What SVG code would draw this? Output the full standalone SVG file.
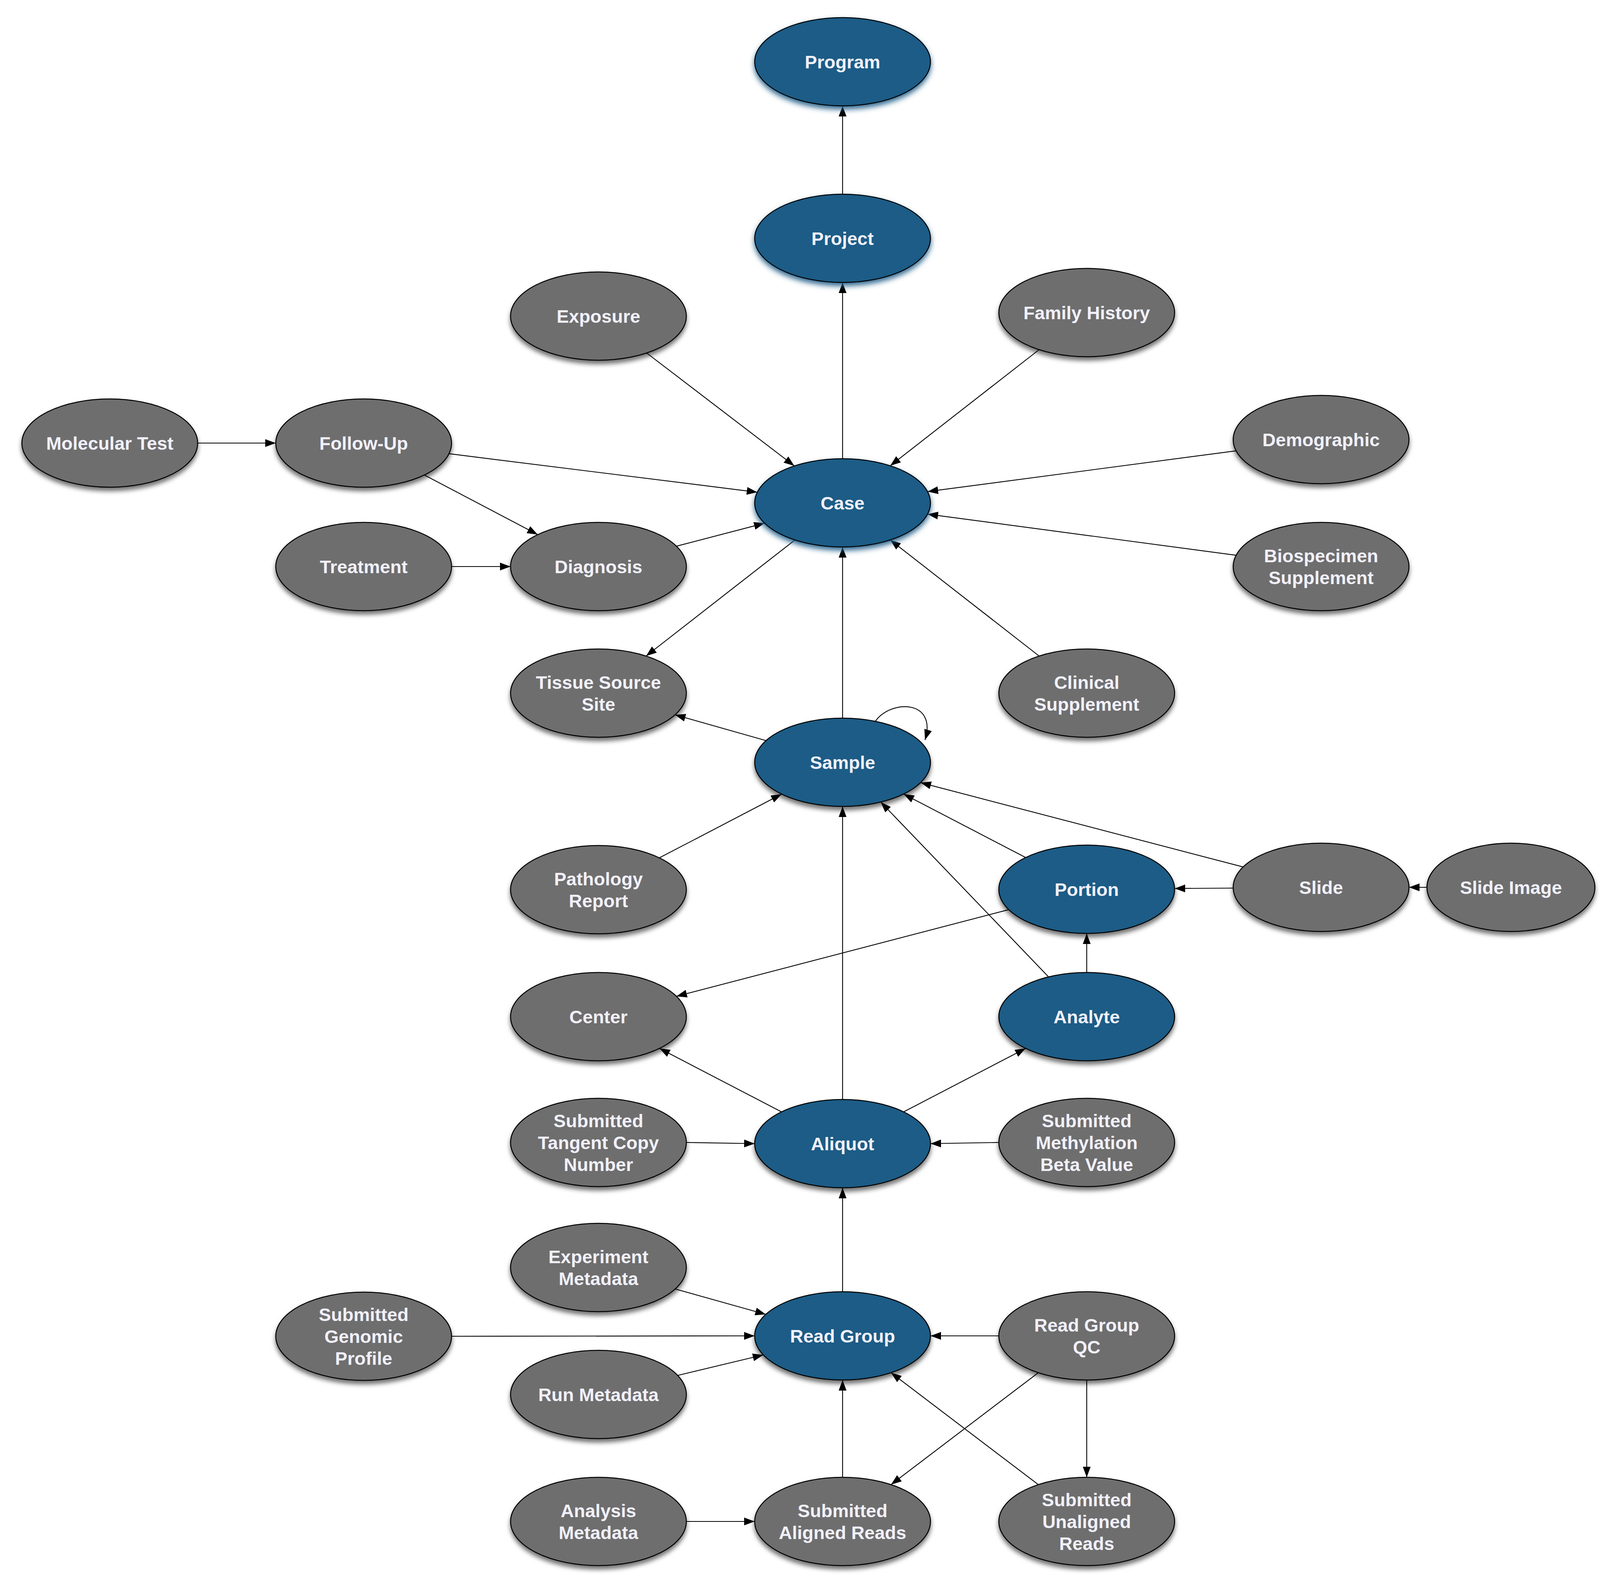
<svg xmlns="http://www.w3.org/2000/svg" width="4311" height="4072" viewBox="0 0 4311 4072">
<style>
  .edge { fill: none; stroke: #000; stroke-width: 2.2; marker-end: url(#arrow); }
  .blue { fill: #1e5c86; stroke: #000; stroke-width: 2.5; filter: url(#shadowGray); }
  .blueglow { fill: #1e5c86; stroke: #000; stroke-width: 2.5; filter: url(#shadowBlue); }
  .gray { fill: #6e6e6e; stroke: #000; stroke-width: 2.5; filter: url(#shadowGray); }
  .lbl { font-family: "Liberation Sans", Arial, Helvetica, sans-serif; font-weight: bold; font-size: 47px; fill: #f1f0fa; text-anchor: middle; }
</style>
<defs>
  <marker id="arrow" markerUnits="userSpaceOnUse" markerWidth="28" markerHeight="20" refX="27" refY="10" orient="auto" viewBox="0 0 28 20">
    <path d="M0,0 L27,10 L0,20 z" fill="#000"/>
  </marker>
  <filter id="shadowGray" x="-20%" y="-20%" width="140%" height="160%">
    <feDropShadow dx="0" dy="9" stdDeviation="6" flood-color="#000" flood-opacity="0.55"/>
  </filter>
  <filter id="shadowBlue" x="-20%" y="-20%" width="140%" height="160%">
    <feDropShadow dx="0" dy="8" stdDeviation="7" flood-color="#1e5c86" flood-opacity="0.9"/>
  </filter>
</defs>
<rect width="4311" height="4072" fill="#fff"/>

<g id="edges">
  <line class="edge" x1="2157" y1="497" x2="2157" y2="271"/>
  <line class="edge" x1="2157" y1="1174" x2="2157" y2="723"/>
  <line class="edge" x1="1655.5" y1="903.5" x2="2033.5" y2="1192.5"/>
  <line class="edge" x1="2660" y1="895" x2="2279" y2="1192"/>
  <line class="edge" x1="3164.4" y1="1153.8" x2="2374.6" y2="1258.2"/>
  <line class="edge" x1="3164.5" y1="1421.1" x2="2374.5" y2="1315.9"/>
  <line class="edge" x1="2660" y1="1679" x2="2279" y2="1382"/>
  <line class="edge" x1="1149.3" y1="1161.2" x2="1938.7" y2="1259.8"/>
  <line class="edge" x1="1731.7" y1="1397.9" x2="1957.3" y2="1339.1"/>
  <line class="edge" x1="2035" y1="1382" x2="1654" y2="1679"/>
  <line class="edge" x1="2157" y1="1838" x2="2157" y2="1400"/>
  <line class="edge" x1="1961" y1="1895.5" x2="1728" y2="1829.5"/>
  <path class="edge" d="M2241,1846 C2280,1790 2400,1790 2368,1894"/>
  <line class="edge" x1="506" y1="1134" x2="706" y2="1134"/>
  <line class="edge" x1="1086.4" y1="1215.7" x2="1376.6" y2="1368.3"/>
  <line class="edge" x1="1156" y1="1450" x2="1307" y2="1450"/>
  <line class="edge" x1="1688" y1="2195.6" x2="2001" y2="2032.4"/>
  <line class="edge" x1="2625.7" y1="2194.7" x2="2313.3" y2="2032.3"/>
  <line class="edge" x1="3182.4" y1="2218.9" x2="2356.6" y2="2003.1"/>
  <line class="edge" x1="2684.3" y1="2500.2" x2="2254.7" y2="2052.8"/>
  <line class="edge" x1="2157" y1="2814" x2="2157" y2="2064"/>
  <line class="edge" x1="3157" y1="2273" x2="3007" y2="2274"/>
  <line class="edge" x1="3653" y1="2271" x2="3607" y2="2271"/>
  <line class="edge" x1="2582.3" y1="2328.1" x2="1731.7" y2="2549.9"/>
  <line class="edge" x1="2782" y1="2489" x2="2782" y2="2389"/>
  <line class="edge" x1="2000.7" y1="2845.7" x2="1688.3" y2="2683.3"/>
  <line class="edge" x1="2313.3" y1="2845.7" x2="2625.7" y2="2683.3"/>
  <line class="edge" x1="1757" y1="2924" x2="1932" y2="2927"/>
  <line class="edge" x1="2557" y1="2924" x2="2382" y2="2927"/>
  <line class="edge" x1="2157" y1="3306" x2="2157" y2="3040"/>
  <line class="edge" x1="1728.6" y1="3299" x2="1960.4" y2="3364"/>
  <line class="edge" x1="1156" y1="3420" x2="1932" y2="3419"/>
  <line class="edge" x1="1735" y1="3520.3" x2="1954" y2="3467.7"/>
  <line class="edge" x1="2557" y1="3419" x2="2382" y2="3419"/>
  <line class="edge" x1="2658" y1="3513.3" x2="2281.1" y2="3799.7"/>
  <line class="edge" x1="2782" y1="3532" x2="2782" y2="3781"/>
  <line class="edge" x1="2157" y1="3781" x2="2157" y2="3532"/>
  <line class="edge" x1="2658" y1="3799.7" x2="2281.1" y2="3513.3"/>
  <line class="edge" x1="1757" y1="3894" x2="1932" y2="3894"/>
</g>

<g id="program"><ellipse class="blueglow" cx="2157" cy="158" rx="225" ry="113"/><text class="lbl" x="2157" y="174.5">Program</text></g>
<g id="project"><ellipse class="blueglow" cx="2157" cy="610" rx="225" ry="113"/><text class="lbl" x="2157" y="626.5">Project</text></g>
<g id="exposure"><ellipse class="gray" cx="1532" cy="809" rx="225" ry="113"/><text class="lbl" x="1532" y="825.5">Exposure</text></g>
<g id="family_history"><ellipse class="gray" cx="2782" cy="800" rx="225" ry="113"/><text class="lbl" x="2782" y="816.5">Family History</text></g>
<g id="molecular_test"><ellipse class="gray" cx="281" cy="1134" rx="225" ry="113"/><text class="lbl" x="281" y="1150.5">Molecular Test</text></g>
<g id="follow_up"><ellipse class="gray" cx="931" cy="1134" rx="225" ry="113"/><text class="lbl" x="931" y="1150.5">Follow-Up</text></g>
<g id="demographic"><ellipse class="gray" cx="3382" cy="1125" rx="225" ry="113"/><text class="lbl" x="3382" y="1141.5">Demographic</text></g>
<g id="case"><ellipse class="blueglow" cx="2157" cy="1287" rx="225" ry="113"/><text class="lbl" x="2157" y="1303.5">Case</text></g>
<g id="treatment"><ellipse class="gray" cx="931" cy="1450" rx="225" ry="113"/><text class="lbl" x="931" y="1466.5">Treatment</text></g>
<g id="diagnosis"><ellipse class="gray" cx="1532" cy="1450" rx="225" ry="113"/><text class="lbl" x="1532" y="1466.5">Diagnosis</text></g>
<g id="biospecimen_supplement"><ellipse class="gray" cx="3382" cy="1450" rx="225" ry="113"/><text class="lbl" x="3382"><tspan x="3382" y="1438.5">Biospecimen</tspan><tspan x="3382" y="1494.5">Supplement</tspan></text></g>
<g id="tissue_source_site"><ellipse class="gray" cx="1532" cy="1774" rx="225" ry="113"/><text class="lbl" x="1532"><tspan x="1532" y="1762.5">Tissue Source</tspan><tspan x="1532" y="1818.5">Site</tspan></text></g>
<g id="clinical_supplement"><ellipse class="gray" cx="2782" cy="1774" rx="225" ry="113"/><text class="lbl" x="2782"><tspan x="2782" y="1762.5">Clinical</tspan><tspan x="2782" y="1818.5">Supplement</tspan></text></g>
<g id="sample"><ellipse class="blue" cx="2157" cy="1951" rx="225" ry="113"/><text class="lbl" x="2157" y="1967.5">Sample</text></g>
<g id="pathology_report"><ellipse class="gray" cx="1532" cy="2277" rx="225" ry="113"/><text class="lbl" x="1532"><tspan x="1532" y="2265.5">Pathology</tspan><tspan x="1532" y="2321.5">Report</tspan></text></g>
<g id="portion"><ellipse class="blue" cx="2782" cy="2276" rx="225" ry="113"/><text class="lbl" x="2782" y="2292.5">Portion</text></g>
<g id="slide"><ellipse class="gray" cx="3382" cy="2271" rx="225" ry="113"/><text class="lbl" x="3382" y="2287.5">Slide</text></g>
<g id="slide_image"><ellipse class="gray" cx="3868" cy="2271" rx="215" ry="113"/><text class="lbl" x="3868" y="2287.5">Slide Image</text></g>
<g id="center"><ellipse class="gray" cx="1532" cy="2602" rx="225" ry="113"/><text class="lbl" x="1532" y="2618.5">Center</text></g>
<g id="analyte"><ellipse class="blue" cx="2782" cy="2602" rx="225" ry="113"/><text class="lbl" x="2782" y="2618.5">Analyte</text></g>
<g id="submitted_tangent_copy_number"><ellipse class="gray" cx="1532" cy="2924" rx="225" ry="113"/><text class="lbl" x="1532"><tspan x="1532" y="2884.5">Submitted</tspan><tspan x="1532" y="2940.5">Tangent Copy</tspan><tspan x="1532" y="2996.5">Number</tspan></text></g>
<g id="aliquot"><ellipse class="blue" cx="2157" cy="2927" rx="225" ry="113"/><text class="lbl" x="2157" y="2943.5">Aliquot</text></g>
<g id="submitted_methylation_beta_value"><ellipse class="gray" cx="2782" cy="2924" rx="225" ry="113"/><text class="lbl" x="2782"><tspan x="2782" y="2884.5">Submitted</tspan><tspan x="2782" y="2940.5">Methylation</tspan><tspan x="2782" y="2996.5">Beta Value</tspan></text></g>
<g id="experiment_metadata"><ellipse class="gray" cx="1532" cy="3244" rx="225" ry="113"/><text class="lbl" x="1532"><tspan x="1532" y="3232.5">Experiment</tspan><tspan x="1532" y="3288.5">Metadata</tspan></text></g>
<g id="submitted_genomic_profile"><ellipse class="gray" cx="931" cy="3420" rx="225" ry="113"/><text class="lbl" x="931"><tspan x="931" y="3380.5">Submitted</tspan><tspan x="931" y="3436.5">Genomic</tspan><tspan x="931" y="3492.5">Profile</tspan></text></g>
<g id="read_group"><ellipse class="blue" cx="2157" cy="3419" rx="225" ry="113"/><text class="lbl" x="2157" y="3435.5">Read Group</text></g>
<g id="read_group_qc"><ellipse class="gray" cx="2782" cy="3419" rx="225" ry="113"/><text class="lbl" x="2782"><tspan x="2782" y="3407.5">Read Group</tspan><tspan x="2782" y="3463.5">QC</tspan></text></g>
<g id="run_metadata"><ellipse class="gray" cx="1532" cy="3569" rx="225" ry="113"/><text class="lbl" x="1532" y="3585.5">Run Metadata</text></g>
<g id="analysis_metadata"><ellipse class="gray" cx="1532" cy="3894" rx="225" ry="113"/><text class="lbl" x="1532"><tspan x="1532" y="3882.5">Analysis</tspan><tspan x="1532" y="3938.5">Metadata</tspan></text></g>
<g id="submitted_aligned_reads"><ellipse class="gray" cx="2157" cy="3894" rx="225" ry="113"/><text class="lbl" x="2157"><tspan x="2157" y="3882.5">Submitted</tspan><tspan x="2157" y="3938.5">Aligned Reads</tspan></text></g>
<g id="submitted_unaligned_reads"><ellipse class="gray" cx="2782" cy="3894" rx="225" ry="113"/><text class="lbl" x="2782"><tspan x="2782" y="3854.5">Submitted</tspan><tspan x="2782" y="3910.5">Unaligned</tspan><tspan x="2782" y="3966.5">Reads</tspan></text></g>
</svg>
